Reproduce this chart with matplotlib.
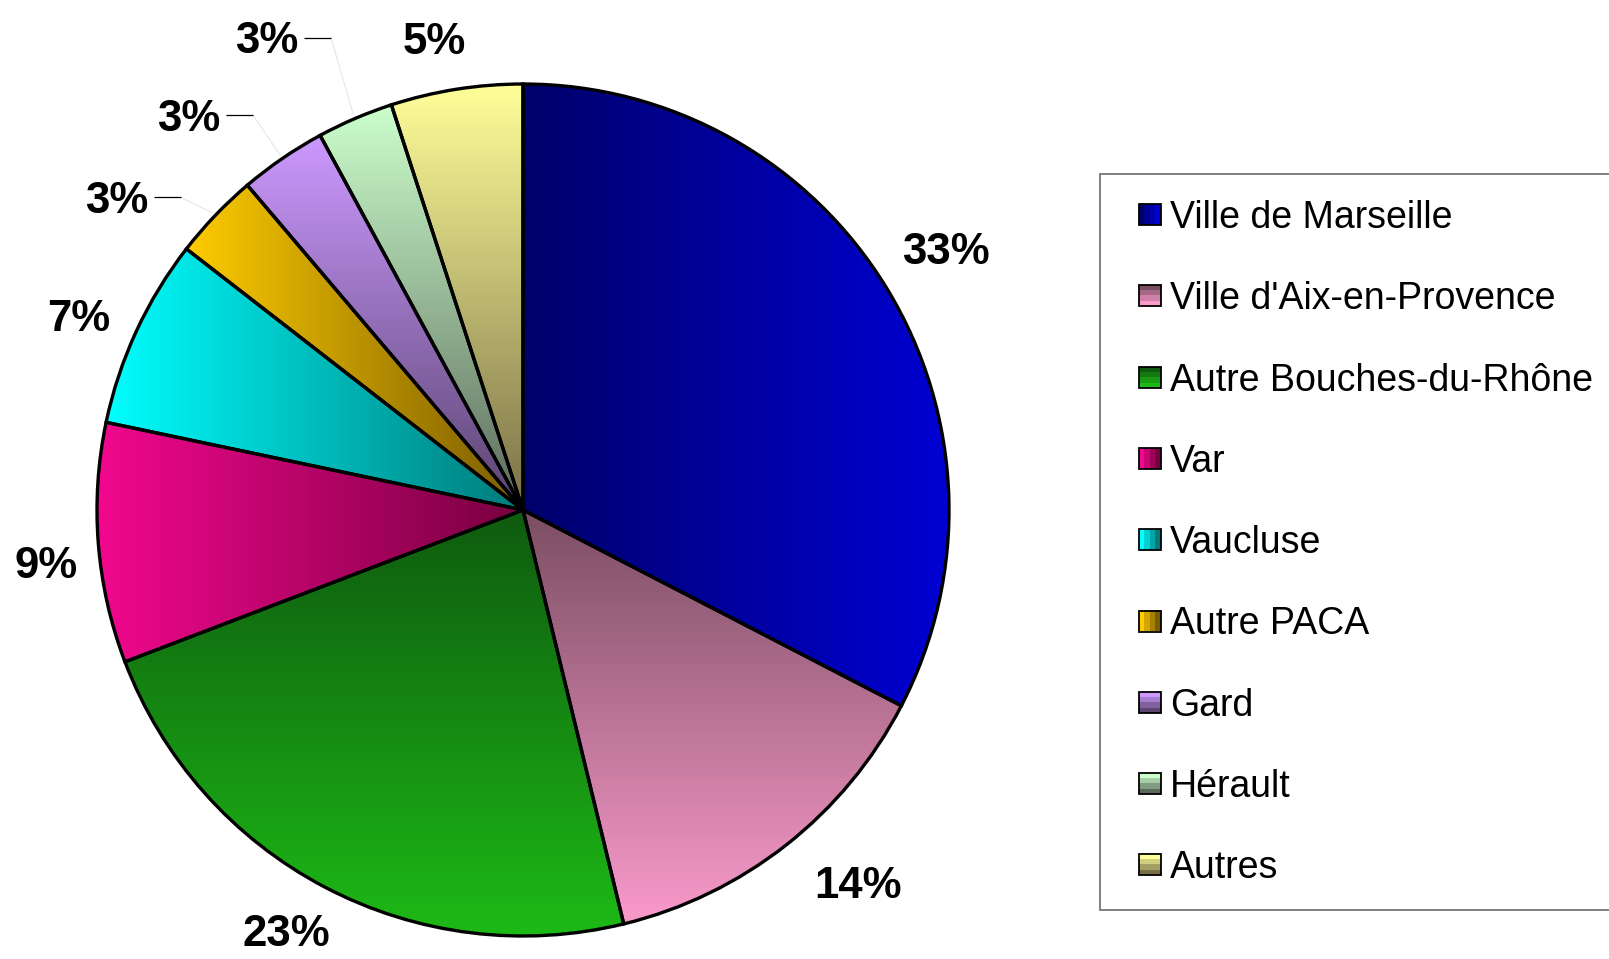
import numpy as np
import matplotlib
matplotlib.use("Agg")
import matplotlib.pyplot as plt
from matplotlib.colors import to_rgb
from matplotlib.patches import Rectangle

# ---- data ----
categories = ["Ville de Marseille", "Ville d'Aix-en-Provence", "Autre Bouches-du-Rhône",
              "Var", "Vaucluse", "Autre PACA", "Gard", "Hérault", "Autres"]
values = [32.6, 13.6, 23.0, 9.1, 7.2, 3.3, 3.3, 2.9, 5.0]
pct_labels = [f"{round(v):.0f}%" for v in values]

# ---- styles ----
# (direction, first colour, second colour): 'h' = left->right, 'v' = top->bottom
gradients = [
    ("h", "#00006A", "#0000D4"),
    ("v", "#7A4E62", "#FA9ACB"),
    ("v", "#0F5A0F", "#1DBA16"),
    ("h", "#F2088E", "#780040"),
    ("h", "#00FFFF", "#007A7A"),
    ("h", "#FFCC00", "#7A5C00"),
    ("v", "#CC99FF", "#5A4470"),
    ("v", "#CCFFCC", "#5C6A5C"),
    ("v", "#FFFF99", "#7A7048"),
]
label_rfac = [1.167, 1.175, 1.133, 1.126, 1.138, 1.204, 1.215, 1.262, 1.127]
label_dang = [0.4, 3.8, -1.6, 1.8, 1.2, 6.2, 5.9, 5.3, 1.6]
leader = [False, False, False, False, False, True, True, True, False]

W, H = 1609, 959
fig = plt.figure(figsize=(W / 100, H / 100), dpi=100)
ax = fig.add_axes([0, 0, 1, 1])


def Y(y):
    return H - y


cx, cy, R = 523, Y(510), 426
wedges, _ = ax.pie(values, startangle=90, counterclock=False, center=(cx, cy), radius=R,
                   wedgeprops=dict(edgecolor="black", linewidth=2.4, facecolor="none", zorder=3))
ax.set_xlim(0, W)
ax.set_ylim(0, H)
ax.set_aspect("auto")
ax.axis("off")


def grad_array(direction, c1, c2, n=256):
    a, b = np.array(to_rgb(c1)), np.array(to_rgb(c2))
    t = np.linspace(0, 1, n)[:, None]
    g = a * (1 - t) + b * t
    if direction == "h":
        return g[None, :, :]
    return g[:, None, :]


for w, (d, c1, c2) in zip(wedges, gradients):
    ext = w.get_path().get_extents()
    im = ax.imshow(grad_array(d, c1, c2), extent=(ext.x0, ext.x1, ext.y0, ext.y1),
                   origin="upper", aspect="auto", interpolation="bilinear", zorder=2)
    im.set_clip_path(w)

FS_LAB = 31.5
cap_lab = 0.716 * FS_LAB * 100 / 72
texts = []
for i, w in enumerate(wedges):
    mid = 0.5 * (w.theta1 + w.theta2)
    a = np.deg2rad(mid + label_dang[i])
    r = R * label_rfac[i]
    x = cx + r * np.cos(a)
    yc = cy + r * np.sin(a)
    t = ax.text(x, yc - cap_lab / 2, pct_labels[i], ha="center", va="baseline",
                fontsize=FS_LAB, fontweight="bold", family="Liberation Sans", color="black",
                zorder=5)
    texts.append((t, yc, mid))

ax.set_xlim(0, W)
ax.set_ylim(0, H)
fig.canvas.draw()
renderer = fig.canvas.get_renderer()
inv = ax.transData.inverted()
for i, (t, yc, mid) in enumerate(texts):
    if not leader[i]:
        continue
    bb = t.get_window_extent(renderer)
    x1 = inv.transform((bb.x1, bb.y1))[0]
    xs = x1 + 6
    xe = xs + 27
    ax.plot([xs, xe], [yc, yc], color="black", lw=0.9, zorder=5, solid_capstyle="butt")
    a = np.deg2rad(mid)
    ax.plot([xe, cx + R * 1.01 * np.cos(a)], [yc, cy + R * 1.01 * np.sin(a)],
            color="#E6E6E6", lw=0.8, zorder=1)

# ---- legend ----
lx0, ly0, lx1, ly1 = 1100, 174, 1612, 910
ax.add_patch(Rectangle((lx0, Y(ly1)), lx1 - lx0, ly1 - ly0, facecolor="white",
                       edgecolor="#808080", lw=1.4, zorder=1.5))
FS_LEG = 27
cap_leg = 0.716 * FS_LEG * 100 / 72
row0, drow = 214.5, 81.3
for i, (name, (d, c1, c2)) in enumerate(zip(categories, gradients)):
    yc = row0 + i * drow
    mx0, mx1 = 1139, 1161
    my0, my1 = yc - 10.5, yc + 10.5
    im = ax.imshow(grad_array(d, c1, c2, n=4), extent=(mx0, mx1, Y(my1), Y(my0)),
                   origin="upper", aspect="auto", interpolation="nearest", zorder=4)
    ax.add_patch(Rectangle((mx0, Y(my1)), mx1 - mx0, my1 - my0, facecolor="none",
                           edgecolor="black", lw=1.3, zorder=4.5))
    ax.text(1170, Y(yc + cap_leg / 2), name, ha="left", va="baseline",
            fontsize=FS_LEG, family="Liberation Sans", color="black", zorder=5)

ax.set_xlim(0, W)
ax.set_ylim(0, H)
fig.savefig("out.png", dpi=100)
